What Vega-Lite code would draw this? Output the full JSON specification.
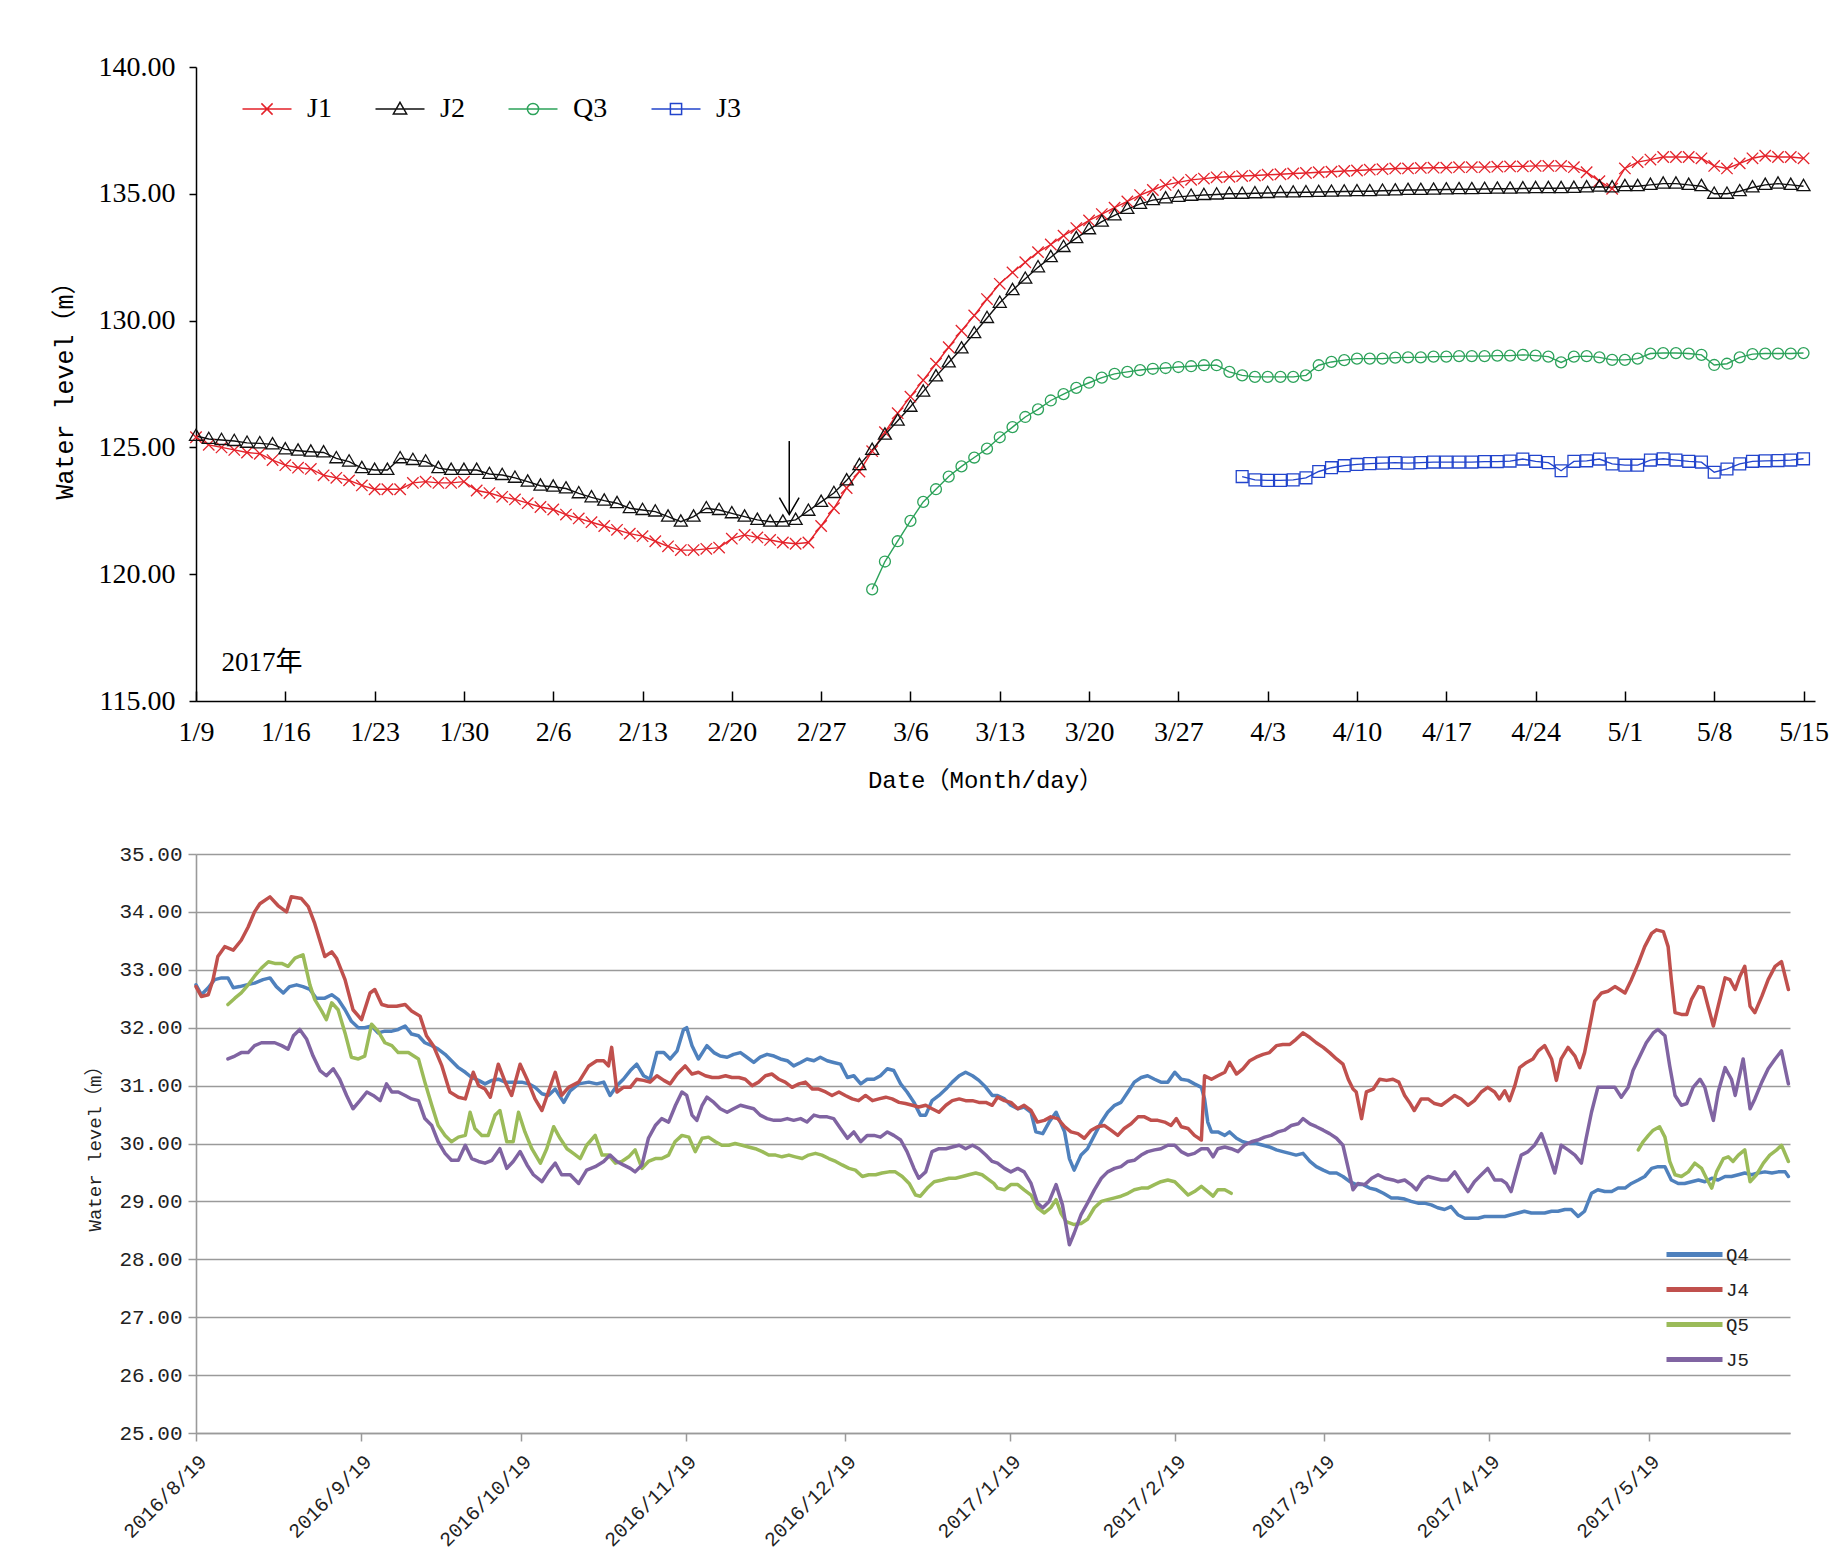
{
"$schema": "https://vega.github.io/schema/vega-lite/v6.json",
"background": "white",
"padding": {"left": 52, "top": 53, "right": 0, "bottom": 0},
"config": {"view": {"stroke": null}, "concat": {"spacing": 51}},
"resolve": {"scale": {"color": "independent", "shape": "independent"}, "legend": {"color": "independent", "shape": "independent"}},
"vconcat": [
{
"width": 1619, "height": 634,
"layer": [
{
"data": {"values": [
{"d":0,"J1":125.4,"J2":125.45},{"d":1,"J1":125.1,"J2":125.33},{"d":2,"J1":125.0,"J2":125.29},{"d":3,"J1":124.9,"J2":125.25},{"d":4,"J1":124.8,"J2":125.18},{"d":5,"J1":124.75,"J2":125.16},{"d":6,"J1":124.5,"J2":125.12},{"d":7,"J1":124.3,"J2":124.92},{"d":8,"J1":124.2,"J2":124.87},{"d":9,"J1":124.15,"J2":124.83},
{"d":10,"J1":123.9,"J2":124.8},{"d":11,"J1":123.8,"J2":124.57},{"d":12,"J1":123.7,"J2":124.44},{"d":13,"J1":123.5,"J2":124.18},{"d":14,"J1":123.35,"J2":124.11},{"d":15,"J1":123.35,"J2":124.11},{"d":16,"J1":123.35,"J2":124.57},{"d":17,"J1":123.6,"J2":124.5},{"d":18,"J1":123.65,"J2":124.44},{"d":19,"J1":123.6,"J2":124.18},
{"d":20,"J1":123.6,"J2":124.11},{"d":21,"J1":123.65,"J2":124.11},{"d":22,"J1":123.3,"J2":124.11},{"d":23,"J1":123.2,"J2":123.95},{"d":24,"J1":123.05,"J2":123.91},{"d":25,"J1":122.95,"J2":123.8},{"d":26,"J1":122.8,"J2":123.65},{"d":27,"J1":122.65,"J2":123.49},{"d":28,"J1":122.55,"J2":123.45},{"d":29,"J1":122.35,"J2":123.38},
{"d":30,"J1":122.2,"J2":123.19},{"d":31,"J1":122.05,"J2":123.03},{"d":32,"J1":121.9,"J2":122.9},{"d":33,"J1":121.75,"J2":122.8},{"d":34,"J1":121.6,"J2":122.6},{"d":35,"J1":121.5,"J2":122.53},{"d":36,"J1":121.3,"J2":122.47},{"d":37,"J1":121.1,"J2":122.27},{"d":38,"J1":120.95,"J2":122.07},{"d":39,"J1":120.95,"J2":122.27},
{"d":40,"J1":121.0,"J2":122.6},{"d":41,"J1":121.05,"J2":122.53},{"d":42,"J1":121.4,"J2":122.4},{"d":43,"J1":121.55,"J2":122.27},{"d":44,"J1":121.45,"J2":122.14},{"d":45,"J1":121.35,"J2":122.07},{"d":46,"J1":121.25,"J2":122.07},{"d":47,"J1":121.2,"J2":122.14},{"d":48,"J1":121.25,"J2":122.5},{"d":49,"J1":121.9,"J2":122.85},
{"d":50,"J1":122.6,"J2":123.2},{"d":51,"J1":123.4,"J2":123.7},{"d":52,"J1":124.05,"J2":124.3},{"d":53,"J1":124.85,"J2":124.9,"Q3":119.4},{"d":54,"J1":125.6,"J2":125.5,"Q3":120.5},{"d":55,"J1":126.35,"J2":126.05,"Q3":121.3},{"d":56,"J1":127.0,"J2":126.6,"Q3":122.1},{"d":57,"J1":127.65,"J2":127.2,"Q3":122.85},{"d":58,"J1":128.3,"J2":127.8,"Q3":123.35},{"d":59,"J1":128.95,"J2":128.35,"Q3":123.85},
{"d":60,"J1":129.6,"J2":128.9,"Q3":124.25},{"d":61,"J1":130.2,"J2":129.5,"Q3":124.6},{"d":62,"J1":130.85,"J2":130.1,"Q3":124.95},{"d":63,"J1":131.45,"J2":130.7,"Q3":125.4},{"d":64,"J1":131.9,"J2":131.2,"Q3":125.8},{"d":65,"J1":132.3,"J2":131.65,"Q3":126.2},{"d":66,"J1":132.7,"J2":132.1,"Q3":126.5},{"d":67,"J1":133.0,"J2":132.5,"Q3":126.85},{"d":68,"J1":133.35,"J2":132.9,"Q3":127.1},{"d":69,"J1":133.65,"J2":133.25,"Q3":127.35},
{"d":70,"J1":133.95,"J2":133.6,"Q3":127.55},{"d":71,"J1":134.2,"J2":133.9,"Q3":127.75},{"d":72,"J1":134.45,"J2":134.15,"Q3":127.9},{"d":73,"J1":134.7,"J2":134.4,"Q3":127.98},{"d":74,"J1":134.95,"J2":134.6,"Q3":128.05},{"d":75,"J1":135.15,"J2":134.75,"Q3":128.1},{"d":76,"J1":135.35,"J2":134.82,"Q3":128.13},{"d":77,"J1":135.45,"J2":134.88,"Q3":128.17},{"d":78,"J1":135.55,"J2":134.92,"Q3":128.2},{"d":79,"J1":135.6,"J2":134.95,"Q3":128.24},
{"d":80,"J1":135.65,"J2":134.97,"Q3":128.24},{"d":81,"J1":135.67,"J2":135.0,"Q3":127.98},{"d":82,"J1":135.7,"J2":135.0,"Q3":127.84,"J3":123.85},{"d":83,"J1":135.72,"J2":135.02,"Q3":127.78,"J3":123.72},{"d":84,"J1":135.75,"J2":135.03,"Q3":127.78,"J3":123.7},{"d":85,"J1":135.77,"J2":135.05,"Q3":127.78,"J3":123.7},{"d":86,"J1":135.8,"J2":135.05,"Q3":127.78,"J3":123.72},{"d":87,"J1":135.82,"J2":135.06,"Q3":127.84,"J3":123.8},{"d":88,"J1":135.85,"J2":135.07,"Q3":128.24,"J3":124.05},{"d":89,"J1":135.87,"J2":135.08,"Q3":128.37,"J3":124.2},
{"d":90,"J1":135.9,"J2":135.09,"Q3":128.44,"J3":124.28},{"d":91,"J1":135.92,"J2":135.1,"Q3":128.5,"J3":124.33},{"d":92,"J1":135.95,"J2":135.1,"Q3":128.5,"J3":124.36},{"d":93,"J1":135.97,"J2":135.12,"Q3":128.5,"J3":124.38},{"d":94,"J1":136.0,"J2":135.13,"Q3":128.54,"J3":124.4},{"d":95,"J1":136.0,"J2":135.15,"Q3":128.55,"J3":124.38},{"d":96,"J1":136.02,"J2":135.15,"Q3":128.55,"J3":124.4},{"d":97,"J1":136.03,"J2":135.16,"Q3":128.58,"J3":124.42},{"d":98,"J1":136.03,"J2":135.17,"Q3":128.58,"J3":124.42},{"d":99,"J1":136.05,"J2":135.18,"Q3":128.6,"J3":124.42},
{"d":100,"J1":136.05,"J2":135.18,"Q3":128.6,"J3":124.42},{"d":101,"J1":136.05,"J2":135.19,"Q3":128.6,"J3":124.44},{"d":102,"J1":136.07,"J2":135.2,"Q3":128.62,"J3":124.44},{"d":103,"J1":136.08,"J2":135.2,"Q3":128.62,"J3":124.46},{"d":104,"J1":136.08,"J2":135.21,"Q3":128.65,"J3":124.54},{"d":105,"J1":136.1,"J2":135.22,"Q3":128.62,"J3":124.45},{"d":106,"J1":136.1,"J2":135.22,"Q3":128.58,"J3":124.4},{"d":107,"J1":136.1,"J2":135.22,"Q3":128.35,"J3":124.08},{"d":108,"J1":136.05,"J2":135.23,"Q3":128.58,"J3":124.45},{"d":109,"J1":135.85,"J2":135.25,"Q3":128.6,"J3":124.47},
{"d":110,"J1":135.5,"J2":135.28,"Q3":128.55,"J3":124.54},{"d":111,"J1":135.2,"J2":135.25,"Q3":128.45,"J3":124.35},{"d":112,"J1":136.0,"J2":135.3,"Q3":128.45,"J3":124.3},{"d":113,"J1":136.25,"J2":135.3,"Q3":128.5,"J3":124.3},{"d":114,"J1":136.35,"J2":135.35,"Q3":128.7,"J3":124.5},{"d":115,"J1":136.45,"J2":135.4,"Q3":128.72,"J3":124.55},{"d":116,"J1":136.45,"J2":135.4,"Q3":128.72,"J3":124.5},{"d":117,"J1":136.45,"J2":135.35,"Q3":128.7,"J3":124.45},{"d":118,"J1":136.4,"J2":135.3,"Q3":128.65,"J3":124.42},{"d":119,"J1":136.1,"J2":135.0,"Q3":128.25,"J3":124.02},
{"d":120,"J1":136.0,"J2":135.0,"Q3":128.3,"J3":124.15},{"d":121,"J1":136.2,"J2":135.1,"Q3":128.55,"J3":124.35},{"d":122,"J1":136.4,"J2":135.25,"Q3":128.68,"J3":124.45},{"d":123,"J1":136.5,"J2":135.35,"Q3":128.7,"J3":124.47},{"d":124,"J1":136.45,"J2":135.4,"Q3":128.7,"J3":124.48},{"d":125,"J1":136.45,"J2":135.35,"Q3":128.7,"J3":124.5},{"d":126,"J1":136.4,"J2":135.3,"Q3":128.72,"J3":124.55}
]},
"transform": [{"fold": ["J1","J2","Q3","J3"], "as": ["s","v"]}, {"filter": "isValid(datum.v)"}],
"layer": [
{"mark": {"type": "line", "strokeWidth": 1.4},
 "encoding": {
  "x": {"field": "d", "type": "quantitative", "scale": {"domain": [0, 126.9], "nice": false, "zero": false},
   "axis": {"values": [0,7,14,21,28,35,42,49,56,63,70,77,84,91,98,105,112,119,126],
    "labelExpr": "['1/9','1/16','1/23','1/30','2/6','2/13','2/20','2/27','3/6','3/13','3/20','3/27','4/3','4/10','4/17','4/24','5/1','5/8','5/15'][round(datum.value/7)]",
    "title": "Date（Month/day）", "titleFont": "Liberation Mono, Noto Sans CJK SC", "titleFontSize": 24, "titleFontWeight": "normal", "titleColor": "#000", "titlePadding": 22, "titleX": 789,
    "labelFont": "Liberation Serif", "labelFontSize": 28, "labelColor": "#000", "labelPadding": 27, "labelFlush": false, "labelOverlap": false,
    "tickSize": -10, "tickColor": "#000", "tickWidth": 1.5, "domainColor": "#000", "domainWidth": 1.5, "grid": false}},
  "y": {"field": "v", "type": "quantitative", "scale": {"domain": [115, 140], "nice": false, "zero": false},
   "axis": {"values": [115,120,125,130,135,140], "format": ".2f",
    "title": "Water level（m）", "titleFont": "Liberation Mono, Noto Sans CJK SC", "titleFontSize": 25, "titleFontWeight": "normal", "titleColor": "#000", "titlePadding": 21,
    "labelFont": "Liberation Serif", "labelFontSize": 28, "labelColor": "#000", "labelPadding": 14,
    "tickSize": 7, "tickColor": "#000", "tickWidth": 1.5, "domainColor": "#000", "domainWidth": 1.5, "grid": false}},
  "color": {"field": "s", "type": "nominal", "scale": {"domain": ["J1","J2","Q3","J3"], "range": ["#e4222a","#111111","#2ca25a","#2244cc"]}}
 }},
{"transform": [{"filter": "datum.s === 'J1'"}],
 "mark": {"type": "point", "shape": "M-1,-1L1,1M-1,1L1,-1", "filled": false, "size": 130, "strokeWidth": 1.3, "opacity": 1},
 "encoding": {"x": {"field": "d", "type": "quantitative"}, "y": {"field": "v", "type": "quantitative"}, "color": {"field": "s", "type": "nominal"}}},
{"transform": [{"filter": "datum.s === 'J2'"}],
 "mark": {"type": "point", "shape": "M0,-1.15L1.1,0.75L-1.1,0.75Z", "filled": false, "size": 140, "strokeWidth": 1.3, "opacity": 1},
 "encoding": {"x": {"field": "d", "type": "quantitative"}, "y": {"field": "v", "type": "quantitative"}, "color": {"field": "s", "type": "nominal"}}},
{"transform": [{"filter": "datum.s === 'Q3'"}],
 "mark": {"type": "point", "shape": "circle", "filled": false, "size": 120, "strokeWidth": 1.3, "opacity": 1},
 "encoding": {"x": {"field": "d", "type": "quantitative"}, "y": {"field": "v", "type": "quantitative"}, "color": {"field": "s", "type": "nominal"}}},
{"transform": [{"filter": "datum.s === 'J3'"}],
 "mark": {"type": "point", "shape": "square", "filled": false, "size": 140, "strokeWidth": 1.3, "opacity": 1},
 "encoding": {"x": {"field": "d", "type": "quantitative"}, "y": {"field": "v", "type": "quantitative"}, "color": {"field": "s", "type": "nominal"}}},
{"transform": [{"filter": "false"}],
 "mark": {"type": "point", "filled": false, "strokeWidth": 1.5, "opacity": 1},
 "encoding": {
  "x": {"field": "d", "type": "quantitative"},
  "y": {"field": "v", "type": "quantitative"},
  "color": {"field": "s", "type": "nominal",
   "legend": {"title": null, "orient": "none", "legendX": 57, "legendY": 28, "direction": "horizontal", "padding": 0,
    "symbolSize": 196, "symbolStrokeWidth": 1.5, "symbolOpacity": 1, "labelOffset": 26, "columnPadding": 40,
    "labelFont": "Liberation Serif", "labelFontSize": 28, "labelColor": "#000", "labelLimit": 0}},
  "shape": {"field": "s", "type": "nominal",
   "scale": {"domain": ["J1","J2","Q3","J3"], "range": [
     "M-3.5,0L3.5,0M-0.8,-0.8L0.8,0.8M-0.8,0.8L0.8,-0.8",
     "M-3.5,0L3.5,0M0,-0.95L0.95,0.7L-0.95,0.7Z",
     "M-3.5,0L3.5,0M-0.8,0A0.8 0.8 0 1 0 0.8,0A0.8 0.8 0 1 0 -0.8,0",
     "M-3.5,0L3.5,0M-0.8,-0.8L0.8,-0.8L0.8,0.8L-0.8,0.8Z"]},
   "legend": {"title": null, "orient": "none", "legendX": 57, "legendY": 28, "direction": "horizontal", "padding": 0,
    "symbolSize": 196, "symbolStrokeWidth": 1.5, "symbolOpacity": 1, "labelOffset": 26, "columnPadding": 40,
    "labelFont": "Liberation Serif", "labelFontSize": 28, "labelColor": "#000", "labelLimit": 0}}
 }}
]
},
{"data": {"values": [{}]}, "mark": {"type": "rule", "color": "#000", "strokeWidth": 1.5},
 "encoding": {"x": {"datum": 46.5}, "y": {"datum": 125.25}, "y2": {"datum": 122.4}}},
{"data": {"values": [{}]}, "mark": {"type": "point", "shape": "M-0.58,-1L0,0L0.58,-1", "size": 1156, "filled": false, "stroke": "#000", "strokeWidth": 1.5, "opacity": 1},
 "encoding": {"x": {"datum": 46.5}, "y": {"datum": 122.35}}},
{"data": {"values": [{}]}, "mark": {"type": "text", "text": "2017年", "align": "left", "baseline": "middle", "font": "Liberation Serif, Noto Sans CJK SC", "fontSize": 27, "color": "#000"},
 "encoding": {"x": {"datum": 2}, "y": {"datum": 116.5}}}
]
},
{
"width": 1594, "height": 579,
"data": {"values": [
{"s":"Q4","t":0,"v":32.74},{"s":"Q4","t":1,"v":32.57},{"s":"Q4","t":2.3,"v":32.69},{"s":"Q4","t":3.5,"v":32.83},{"s":"Q4","t":4.8,"v":32.86},{"s":"Q4","t":6,"v":32.86},{"s":"Q4","t":7,"v":32.69},{"s":"Q4","t":8.2,"v":32.71},{"s":"Q4","t":9.5,"v":32.74},{"s":"Q4","t":11,"v":32.77},{"s":"Q4","t":12.6,"v":32.83},{"s":"Q4","t":13.9,"v":32.86},{"s":"Q4","t":15.1,"v":32.71},{"s":"Q4","t":16.4,"v":32.6},{"s":"Q4","t":17.6,"v":32.71},{"s":"Q4","t":18.9,"v":32.74},{"s":"Q4","t":20.1,"v":32.71},{"s":"Q4","t":21.4,"v":32.66},{"s":"Q4","t":22.6,"v":32.51},{"s":"Q4","t":24.2,"v":32.51},{"s":"Q4","t":25.5,"v":32.57},{"s":"Q4","t":26.7,"v":32.49},{"s":"Q4","t":28,"v":32.31},{"s":"Q4","t":29.2,"v":32.11},{"s":"Q4","t":30.5,"v":32.0},{"s":"Q4","t":31.7,"v":32.0},{"s":"Q4","t":33,"v":32.03},{"s":"Q4","t":34.2,"v":31.91},{"s":"Q4","t":35.5,"v":31.94},{"s":"Q4","t":36.8,"v":31.94},{"s":"Q4","t":38,"v":31.97},{"s":"Q4","t":39.3,"v":32.03},{"s":"Q4","t":40.5,"v":31.89},{"s":"Q4","t":41.8,"v":31.86},{"s":"Q4","t":43,"v":31.74},{"s":"Q4","t":44.3,"v":31.69},{"s":"Q4","t":45.5,"v":31.63},{"s":"Q4","t":46.8,"v":31.54},{"s":"Q4","t":48,"v":31.43},{"s":"Q4","t":49.3,"v":31.31},{"s":"Q4","t":50.6,"v":31.23},{"s":"Q4","t":51.8,"v":31.14},{"s":"Q4","t":53.1,"v":31.09},{"s":"Q4","t":54.3,"v":31.03},{"s":"Q4","t":55.6,"v":31.09},{"s":"Q4","t":56.8,"v":31.11},{"s":"Q4","t":58.1,"v":31.06},{"s":"Q4","t":59.6,"v":31.06},{"s":"Q4","t":61.2,"v":31.06},{"s":"Q4","t":62.5,"v":31.03},{"s":"Q4","t":63.7,"v":30.97},{"s":"Q4","t":65,"v":30.86},{"s":"Q4","t":66.2,"v":30.83},{"s":"Q4","t":67.5,"v":30.94},{"s":"Q4","t":69.1,"v":30.71},{"s":"Q4","t":70.3,"v":30.91},{"s":"Q4","t":71.9,"v":31.03},{"s":"Q4","t":73.8,"v":31.06},{"s":"Q4","t":75.3,"v":31.03},
{"s":"Q4","t":76.6,"v":31.06},{"s":"Q4","t":77.8,"v":30.83},{"s":"Q4","t":79.1,"v":31.0},{"s":"Q4","t":80.3,"v":31.11},{"s":"Q4","t":81.6,"v":31.26},{"s":"Q4","t":82.8,"v":31.37},{"s":"Q4","t":84.1,"v":31.17},{"s":"Q4","t":85.3,"v":31.11},{"s":"Q4","t":86.6,"v":31.57},{"s":"Q4","t":87.9,"v":31.57},{"s":"Q4","t":89.1,"v":31.46},{"s":"Q4","t":90.4,"v":31.6},{"s":"Q4","t":91.6,"v":31.97},{"s":"Q4","t":92.2,"v":32.0},{"s":"Q4","t":93.2,"v":31.69},{"s":"Q4","t":94.4,"v":31.46},{"s":"Q4","t":96,"v":31.69},{"s":"Q4","t":97.3,"v":31.57},{"s":"Q4","t":98.5,"v":31.51},{"s":"Q4","t":99.8,"v":31.49},{"s":"Q4","t":101,"v":31.54},{"s":"Q4","t":102.3,"v":31.57},{"s":"Q4","t":103.5,"v":31.49},{"s":"Q4","t":104.8,"v":31.4},{"s":"Q4","t":106,"v":31.49},{"s":"Q4","t":107.3,"v":31.54},{"s":"Q4","t":108.6,"v":31.51},{"s":"Q4","t":109.8,"v":31.46},{"s":"Q4","t":111.1,"v":31.43},{"s":"Q4","t":112.3,"v":31.34},{"s":"Q4","t":113.6,"v":31.4},{"s":"Q4","t":114.8,"v":31.46},{"s":"Q4","t":116.1,"v":31.43},{"s":"Q4","t":117.3,"v":31.49},{"s":"Q4","t":118.6,"v":31.43},{"s":"Q4","t":119.8,"v":31.4},{"s":"Q4","t":121.1,"v":31.37},{"s":"Q4","t":122.4,"v":31.14},{"s":"Q4","t":123.6,"v":31.17},{"s":"Q4","t":124.9,"v":31.03},{"s":"Q4","t":126.1,"v":31.11},{"s":"Q4","t":127.4,"v":31.11},{"s":"Q4","t":128.6,"v":31.17},{"s":"Q4","t":129.9,"v":31.29},{"s":"Q4","t":131.1,"v":31.26},{"s":"Q4","t":132.4,"v":31.03},{"s":"Q4","t":133.6,"v":30.89},{"s":"Q4","t":134.9,"v":30.71},{"s":"Q4","t":136.1,"v":30.49},{"s":"Q4","t":137.1,"v":30.49},{"s":"Q4","t":138.3,"v":30.74},{"s":"Q4","t":139.6,"v":30.83},{"s":"Q4","t":140.9,"v":30.94},{"s":"Q4","t":142.1,"v":31.06},{"s":"Q4","t":143.4,"v":31.17},{"s":"Q4","t":144.6,"v":31.23},{"s":"Q4","t":145.9,"v":31.17},{"s":"Q4","t":147.1,"v":31.09},{"s":"Q4","t":148.4,"v":30.97},{"s":"Q4","t":149.6,"v":30.83},
{"s":"Q4","t":150.6,"v":30.83},{"s":"Q4","t":151.9,"v":30.77},{"s":"Q4","t":153.1,"v":30.66},{"s":"Q4","t":154.4,"v":30.6},{"s":"Q4","t":155.6,"v":30.63},{"s":"Q4","t":156.9,"v":30.54},{"s":"Q4","t":157.8,"v":30.2},{"s":"Q4","t":159.1,"v":30.17},{"s":"Q4","t":160.3,"v":30.37},{"s":"Q4","t":161.6,"v":30.54},{"s":"Q4","t":163.2,"v":30.2},{"s":"Q4","t":164.1,"v":29.74},{"s":"Q4","t":165,"v":29.54},{"s":"Q4","t":166.3,"v":29.8},{"s":"Q4","t":167.5,"v":29.91},{"s":"Q4","t":168.8,"v":30.14},{"s":"Q4","t":170.1,"v":30.37},{"s":"Q4","t":171.3,"v":30.54},{"s":"Q4","t":172.6,"v":30.66},{"s":"Q4","t":173.8,"v":30.71},{"s":"Q4","t":175.1,"v":30.89},{"s":"Q4","t":176.3,"v":31.06},{"s":"Q4","t":177.6,"v":31.14},{"s":"Q4","t":178.8,"v":31.17},{"s":"Q4","t":180.1,"v":31.11},{"s":"Q4","t":181.3,"v":31.06},{"s":"Q4","t":182.6,"v":31.06},{"s":"Q4","t":183.9,"v":31.23},{"s":"Q4","t":185.1,"v":31.11},{"s":"Q4","t":186.4,"v":31.09},{"s":"Q4","t":187.6,"v":31.03},{"s":"Q4","t":188.9,"v":30.97},{"s":"Q4","t":189.5,"v":30.77},{"s":"Q4","t":190.1,"v":30.37},{"s":"Q4","t":190.8,"v":30.2},{"s":"Q4","t":192,"v":30.2},{"s":"Q4","t":193.3,"v":30.14},{"s":"Q4","t":194.2,"v":30.2},{"s":"Q4","t":195.5,"v":30.09},{"s":"Q4","t":196.7,"v":30.03},{"s":"Q4","t":198,"v":30.0},{"s":"Q4","t":199.2,"v":30.0},{"s":"Q4","t":200.5,"v":29.97},{"s":"Q4","t":201.7,"v":29.94},{"s":"Q4","t":203,"v":29.89},{"s":"Q4","t":204.2,"v":29.86},{"s":"Q4","t":205.5,"v":29.83},{"s":"Q4","t":206.7,"v":29.8},{"s":"Q4","t":208,"v":29.83},{"s":"Q4","t":209.3,"v":29.69},{"s":"Q4","t":210.5,"v":29.6},{"s":"Q4","t":211.8,"v":29.54},{"s":"Q4","t":213,"v":29.49},{"s":"Q4","t":214.3,"v":29.49},{"s":"Q4","t":215.5,"v":29.43},{"s":"Q4","t":216.8,"v":29.34},{"s":"Q4","t":218,"v":29.29},{"s":"Q4","t":219.3,"v":29.29},{"s":"Q4","t":220.5,"v":29.23},{"s":"Q4","t":221.8,"v":29.2},{"s":"Q4","t":223.1,"v":29.14},{"s":"Q4","t":224.6,"v":29.06},
{"s":"Q4","t":225.8,"v":29.06},{"s":"Q4","t":227.1,"v":29.04},{"s":"Q4","t":228.3,"v":29.0},{"s":"Q4","t":229.6,"v":28.97},{"s":"Q4","t":230.8,"v":28.97},{"s":"Q4","t":232.1,"v":28.94},{"s":"Q4","t":233.3,"v":28.89},{"s":"Q4","t":234.6,"v":28.86},{"s":"Q4","t":235.8,"v":28.91},{"s":"Q4","t":237.1,"v":28.77},{"s":"Q4","t":238.4,"v":28.71},{"s":"Q4","t":239.6,"v":28.71},{"s":"Q4","t":240.9,"v":28.71},{"s":"Q4","t":242.1,"v":28.74},{"s":"Q4","t":243.4,"v":28.74},{"s":"Q4","t":244.6,"v":28.74},{"s":"Q4","t":245.9,"v":28.74},{"s":"Q4","t":247.1,"v":28.77},{"s":"Q4","t":248.4,"v":28.8},{"s":"Q4","t":249.6,"v":28.83},{"s":"Q4","t":250.9,"v":28.8},{"s":"Q4","t":252.2,"v":28.8},{"s":"Q4","t":253.4,"v":28.8},{"s":"Q4","t":254.7,"v":28.83},{"s":"Q4","t":255.9,"v":28.83},{"s":"Q4","t":257.2,"v":28.86},{"s":"Q4","t":258.4,"v":28.86},{"s":"Q4","t":259.7,"v":28.74},{"s":"Q4","t":260.9,"v":28.83},{"s":"Q4","t":262.2,"v":29.14},{"s":"Q4","t":263.4,"v":29.2},{"s":"Q4","t":264.7,"v":29.17},{"s":"Q4","t":266,"v":29.17},{"s":"Q4","t":267.2,"v":29.23},{"s":"Q4","t":268.5,"v":29.23},{"s":"Q4","t":269.7,"v":29.31},{"s":"Q4","t":271,"v":29.37},{"s":"Q4","t":272.2,"v":29.43},{"s":"Q4","t":273.5,"v":29.57},{"s":"Q4","t":274.7,"v":29.6},{"s":"Q4","t":276,"v":29.6},{"s":"Q4","t":277.2,"v":29.37},{"s":"Q4","t":278.5,"v":29.31},{"s":"Q4","t":279.7,"v":29.31},{"s":"Q4","t":281,"v":29.34},{"s":"Q4","t":282.3,"v":29.37},{"s":"Q4","t":283.5,"v":29.34},{"s":"Q4","t":284.8,"v":29.4},{"s":"Q4","t":286,"v":29.37},{"s":"Q4","t":287.3,"v":29.43},{"s":"Q4","t":288.5,"v":29.43},{"s":"Q4","t":289.8,"v":29.46},{"s":"Q4","t":291,"v":29.49},{"s":"Q4","t":292.3,"v":29.46},{"s":"Q4","t":293.5,"v":29.49},{"s":"Q4","t":294.8,"v":29.51},{"s":"Q4","t":296.1,"v":29.49},{"s":"Q4","t":297.3,"v":29.51},{"s":"Q4","t":298.6,"v":29.51},{"s":"Q4","t":299.2,"v":29.43},
{"s":"J4","t":0,"v":32.71},{"s":"J4","t":1,"v":32.54},{"s":"J4","t":2.3,"v":32.57},{"s":"J4","t":3.2,"v":32.83},{"s":"J4","t":4.1,"v":33.23},{"s":"J4","t":5.4,"v":33.4},{"s":"J4","t":7,"v":33.34},{"s":"J4","t":8.5,"v":33.51},{"s":"J4","t":9.8,"v":33.74},{"s":"J4","t":11,"v":34.0},{"s":"J4","t":12,"v":34.14},{"s":"J4","t":13.9,"v":34.26},{"s":"J4","t":15.4,"v":34.11},{"s":"J4","t":17,"v":34.0},{"s":"J4","t":17.9,"v":34.26},{"s":"J4","t":19.8,"v":34.23},{"s":"J4","t":21.1,"v":34.09},{"s":"J4","t":22.3,"v":33.8},{"s":"J4","t":24.2,"v":33.23},{"s":"J4","t":25.5,"v":33.31},{"s":"J4","t":26.4,"v":33.2},{"s":"J4","t":28,"v":32.83},{"s":"J4","t":29.5,"v":32.31},{"s":"J4","t":31.1,"v":32.14},{"s":"J4","t":32.7,"v":32.6},{"s":"J4","t":33.6,"v":32.66},{"s":"J4","t":34.9,"v":32.4},{"s":"J4","t":36.1,"v":32.37},{"s":"J4","t":37.7,"v":32.37},{"s":"J4","t":39.3,"v":32.4},{"s":"J4","t":40.5,"v":32.29},{"s":"J4","t":42.1,"v":32.2},{"s":"J4","t":43.3,"v":31.86},{"s":"J4","t":44.6,"v":31.69},{"s":"J4","t":46.2,"v":31.34},{"s":"J4","t":47.7,"v":30.89},{"s":"J4","t":49.3,"v":30.8},{"s":"J4","t":50.6,"v":30.77},{"s":"J4","t":52.1,"v":31.23},{"s":"J4","t":53.1,"v":31.0},{"s":"J4","t":54.3,"v":30.94},{"s":"J4","t":55.3,"v":30.8},{"s":"J4","t":56.8,"v":31.37},{"s":"J4","t":58.1,"v":31.06},{"s":"J4","t":59.3,"v":30.83},{"s":"J4","t":60.9,"v":31.37},{"s":"J4","t":62.2,"v":31.11},{"s":"J4","t":63.7,"v":30.77},{"s":"J4","t":65,"v":30.57},{"s":"J4","t":66.2,"v":30.89},{"s":"J4","t":67.5,"v":31.23},{"s":"J4","t":68.7,"v":30.83},{"s":"J4","t":70,"v":30.97},{"s":"J4","t":71.9,"v":31.06},{"s":"J4","t":73.8,"v":31.34},{"s":"J4","t":75.3,"v":31.43},
{"s":"J4","t":76.6,"v":31.43},{"s":"J4","t":77.5,"v":31.34},{"s":"J4","t":78.1,"v":31.66},{"s":"J4","t":79.1,"v":30.89},{"s":"J4","t":80.3,"v":30.97},{"s":"J4","t":81.6,"v":30.97},{"s":"J4","t":82.8,"v":31.11},{"s":"J4","t":84.1,"v":31.09},{"s":"J4","t":85.3,"v":31.06},{"s":"J4","t":86.6,"v":31.17},{"s":"J4","t":87.9,"v":31.09},{"s":"J4","t":89.1,"v":31.03},{"s":"J4","t":90.4,"v":31.2},{"s":"J4","t":91.9,"v":31.34},{"s":"J4","t":93.2,"v":31.2},{"s":"J4","t":94.4,"v":31.23},{"s":"J4","t":95.7,"v":31.17},{"s":"J4","t":97,"v":31.14},{"s":"J4","t":98.2,"v":31.14},{"s":"J4","t":99.5,"v":31.17},{"s":"J4","t":100.7,"v":31.14},{"s":"J4","t":102,"v":31.14},{"s":"J4","t":103.2,"v":31.11},{"s":"J4","t":104.5,"v":31.0},{"s":"J4","t":105.7,"v":31.06},{"s":"J4","t":107,"v":31.17},{"s":"J4","t":108.2,"v":31.2},{"s":"J4","t":109.5,"v":31.11},{"s":"J4","t":110.7,"v":31.06},{"s":"J4","t":112,"v":30.97},{"s":"J4","t":113.3,"v":31.03},{"s":"J4","t":114.5,"v":31.06},{"s":"J4","t":115.8,"v":30.94},{"s":"J4","t":117,"v":30.94},{"s":"J4","t":118.3,"v":30.89},{"s":"J4","t":119.5,"v":30.83},{"s":"J4","t":120.8,"v":30.89},{"s":"J4","t":122,"v":30.83},{"s":"J4","t":123.3,"v":30.77},{"s":"J4","t":124.5,"v":30.74},{"s":"J4","t":125.8,"v":30.83},{"s":"J4","t":127.1,"v":30.74},{"s":"J4","t":128.3,"v":30.77},{"s":"J4","t":129.6,"v":30.8},{"s":"J4","t":130.8,"v":30.77},{"s":"J4","t":132.1,"v":30.71},{"s":"J4","t":133.3,"v":30.69},{"s":"J4","t":134.6,"v":30.66},{"s":"J4","t":135.8,"v":30.63},{"s":"J4","t":137.1,"v":30.66},{"s":"J4","t":138.3,"v":30.6},{"s":"J4","t":139.6,"v":30.54},{"s":"J4","t":140.9,"v":30.66},{"s":"J4","t":142.1,"v":30.74},{"s":"J4","t":143.4,"v":30.77},{"s":"J4","t":144.6,"v":30.74},{"s":"J4","t":145.9,"v":30.74},{"s":"J4","t":147.1,"v":30.71},{"s":"J4","t":148.4,"v":30.71},{"s":"J4","t":149.6,"v":30.66},
{"s":"J4","t":150.6,"v":30.8},{"s":"J4","t":151.9,"v":30.74},{"s":"J4","t":153.1,"v":30.71},{"s":"J4","t":154.4,"v":30.6},{"s":"J4","t":155.6,"v":30.66},{"s":"J4","t":156.9,"v":30.57},{"s":"J4","t":158.1,"v":30.37},{"s":"J4","t":159.4,"v":30.4},{"s":"J4","t":160.6,"v":30.46},{"s":"J4","t":161.9,"v":30.43},{"s":"J4","t":163.2,"v":30.29},{"s":"J4","t":164.4,"v":30.2},{"s":"J4","t":165.7,"v":30.17},{"s":"J4","t":166.9,"v":30.09},{"s":"J4","t":168.2,"v":30.23},{"s":"J4","t":169.4,"v":30.29},{"s":"J4","t":170.7,"v":30.31},{"s":"J4","t":171.9,"v":30.23},{"s":"J4","t":173.2,"v":30.14},{"s":"J4","t":174.4,"v":30.26},{"s":"J4","t":175.7,"v":30.34},{"s":"J4","t":177,"v":30.46},{"s":"J4","t":178.2,"v":30.46},{"s":"J4","t":179.5,"v":30.4},{"s":"J4","t":180.7,"v":30.4},{"s":"J4","t":182,"v":30.37},{"s":"J4","t":183.2,"v":30.31},{"s":"J4","t":184.2,"v":30.43},{"s":"J4","t":185.1,"v":30.29},{"s":"J4","t":186.4,"v":30.26},{"s":"J4","t":187.6,"v":30.14},{"s":"J4","t":188.9,"v":30.06},{"s":"J4","t":189.5,"v":31.17},{"s":"J4","t":190.8,"v":31.11},{"s":"J4","t":192,"v":31.17},{"s":"J4","t":193.3,"v":31.23},{"s":"J4","t":194.2,"v":31.4},{"s":"J4","t":195.5,"v":31.2},{"s":"J4","t":196.7,"v":31.29},{"s":"J4","t":198,"v":31.43},{"s":"J4","t":199.2,"v":31.49},{"s":"J4","t":200.5,"v":31.54},{"s":"J4","t":201.7,"v":31.57},{"s":"J4","t":203,"v":31.69},{"s":"J4","t":204.2,"v":31.71},{"s":"J4","t":205.5,"v":31.71},{"s":"J4","t":206.7,"v":31.8},{"s":"J4","t":208,"v":31.91},{"s":"J4","t":209.3,"v":31.83},{"s":"J4","t":210.5,"v":31.74},{"s":"J4","t":211.8,"v":31.66},{"s":"J4","t":213,"v":31.57},{"s":"J4","t":214.3,"v":31.46},{"s":"J4","t":215.5,"v":31.37},{"s":"J4","t":216.5,"v":31.11},{"s":"J4","t":217.4,"v":30.94},{"s":"J4","t":218,"v":30.89},{"s":"J4","t":219,"v":30.43},{"s":"J4","t":219.9,"v":30.89},{"s":"J4","t":221.2,"v":30.94},{"s":"J4","t":222.4,"v":31.11},{"s":"J4","t":223.7,"v":31.09},{"s":"J4","t":224.9,"v":31.11},
{"s":"J4","t":226,"v":31.06},{"s":"J4","t":227.1,"v":30.83},{"s":"J4","t":228,"v":30.71},{"s":"J4","t":228.9,"v":30.57},{"s":"J4","t":230.2,"v":30.77},{"s":"J4","t":231.5,"v":30.77},{"s":"J4","t":232.7,"v":30.69},{"s":"J4","t":234,"v":30.66},{"s":"J4","t":235.2,"v":30.74},{"s":"J4","t":236.5,"v":30.83},{"s":"J4","t":237.7,"v":30.77},{"s":"J4","t":239,"v":30.66},{"s":"J4","t":240.2,"v":30.74},{"s":"J4","t":241.5,"v":30.89},{"s":"J4","t":242.7,"v":30.97},{"s":"J4","t":244,"v":30.89},{"s":"J4","t":244.9,"v":30.77},{"s":"J4","t":245.9,"v":30.91},{"s":"J4","t":246.8,"v":30.74},{"s":"J4","t":247.8,"v":31.0},{"s":"J4","t":248.7,"v":31.31},{"s":"J4","t":250,"v":31.4},{"s":"J4","t":251.2,"v":31.46},{"s":"J4","t":252.2,"v":31.6},{"s":"J4","t":253.4,"v":31.69},{"s":"J4","t":254.7,"v":31.46},{"s":"J4","t":255.6,"v":31.09},{"s":"J4","t":256.5,"v":31.46},{"s":"J4","t":257.8,"v":31.66},{"s":"J4","t":259.1,"v":31.51},{"s":"J4","t":260,"v":31.31},{"s":"J4","t":260.9,"v":31.57},{"s":"J4","t":261.9,"v":32.03},{"s":"J4","t":262.8,"v":32.46},{"s":"J4","t":264.1,"v":32.6},{"s":"J4","t":265.3,"v":32.63},{"s":"J4","t":266.6,"v":32.71},{"s":"J4","t":267.5,"v":32.66},{"s":"J4","t":268.5,"v":32.6},{"s":"J4","t":269.7,"v":32.83},{"s":"J4","t":271,"v":33.11},{"s":"J4","t":272.2,"v":33.4},{"s":"J4","t":273.5,"v":33.63},{"s":"J4","t":274.4,"v":33.69},{"s":"J4","t":275.7,"v":33.66},{"s":"J4","t":276.6,"v":33.4},{"s":"J4","t":277.2,"v":32.83},{"s":"J4","t":277.9,"v":32.26},{"s":"J4","t":279.1,"v":32.23},{"s":"J4","t":280.1,"v":32.23},{"s":"J4","t":281,"v":32.49},{"s":"J4","t":282.3,"v":32.71},{"s":"J4","t":283.2,"v":32.69},{"s":"J4","t":284.1,"v":32.37},{"s":"J4","t":285.1,"v":32.03},{"s":"J4","t":286,"v":32.37},{"s":"J4","t":287.3,"v":32.86},{"s":"J4","t":288.2,"v":32.83},{"s":"J4","t":289.2,"v":32.66},{"s":"J4","t":290.1,"v":32.89},{"s":"J4","t":291,"v":33.06},{"s":"J4","t":292,"v":32.37},{"s":"J4","t":292.9,"v":32.26},{"s":"J4","t":294.2,"v":32.54},{"s":"J4","t":295.4,"v":32.83},{"s":"J4","t":296.7,"v":33.06},{"s":"J4","t":297.9,"v":33.14},{"s":"J4","t":299.2,"v":32.66},
{"s":"Q5","t":6,"v":32.4},{"s":"Q5","t":7.3,"v":32.51},{"s":"Q5","t":8.5,"v":32.6},{"s":"Q5","t":9.8,"v":32.74},{"s":"Q5","t":11,"v":32.89},{"s":"Q5","t":12.3,"v":33.03},{"s":"Q5","t":13.6,"v":33.14},{"s":"Q5","t":14.8,"v":33.11},{"s":"Q5","t":16.1,"v":33.11},{"s":"Q5","t":17.3,"v":33.06},{"s":"Q5","t":18.6,"v":33.2},{"s":"Q5","t":20.1,"v":33.26},{"s":"Q5","t":21.4,"v":32.74},{"s":"Q5","t":22.3,"v":32.49},{"s":"Q5","t":23.6,"v":32.29},{"s":"Q5","t":24.5,"v":32.14},{"s":"Q5","t":25.5,"v":32.43},{"s":"Q5","t":26.7,"v":32.31},{"s":"Q5","t":28,"v":31.91},{"s":"Q5","t":29.2,"v":31.49},{"s":"Q5","t":30.5,"v":31.46},{"s":"Q5","t":31.7,"v":31.51},{"s":"Q5","t":33,"v":32.06},{"s":"Q5","t":34.2,"v":31.94},{"s":"Q5","t":35.5,"v":31.74},{"s":"Q5","t":36.8,"v":31.69},{"s":"Q5","t":38,"v":31.57},{"s":"Q5","t":39.9,"v":31.57},{"s":"Q5","t":41.8,"v":31.46},{"s":"Q5","t":43,"v":31.06},{"s":"Q5","t":44.3,"v":30.66},{"s":"Q5","t":45.5,"v":30.31},{"s":"Q5","t":46.8,"v":30.14},{"s":"Q5","t":48,"v":30.03},{"s":"Q5","t":49.3,"v":30.11},{"s":"Q5","t":50.6,"v":30.14},{"s":"Q5","t":51.5,"v":30.54},{"s":"Q5","t":52.4,"v":30.26},{"s":"Q5","t":53.7,"v":30.14},{"s":"Q5","t":54.9,"v":30.14},{"s":"Q5","t":56.2,"v":30.49},{"s":"Q5","t":57.1,"v":30.57},{"s":"Q5","t":58.4,"v":30.03},{"s":"Q5","t":59.6,"v":30.03},{"s":"Q5","t":60.6,"v":30.54},{"s":"Q5","t":61.8,"v":30.2},{"s":"Q5","t":63.1,"v":29.91},{"s":"Q5","t":64.7,"v":29.66},{"s":"Q5","t":65.9,"v":29.91},{"s":"Q5","t":67.2,"v":30.29},{"s":"Q5","t":68.4,"v":30.09},{"s":"Q5","t":69.7,"v":29.91},{"s":"Q5","t":70.9,"v":29.83},{"s":"Q5","t":72.2,"v":29.74},{"s":"Q5","t":73.4,"v":29.97},{"s":"Q5","t":75,"v":30.14},
{"s":"Q5","t":76.3,"v":29.8},{"s":"Q5","t":77.5,"v":29.8},{"s":"Q5","t":78.8,"v":29.66},{"s":"Q5","t":80,"v":29.69},{"s":"Q5","t":81.3,"v":29.77},{"s":"Q5","t":82.5,"v":29.89},{"s":"Q5","t":83.8,"v":29.57},{"s":"Q5","t":85,"v":29.69},{"s":"Q5","t":86.3,"v":29.74},{"s":"Q5","t":87.5,"v":29.74},{"s":"Q5","t":88.8,"v":29.8},{"s":"Q5","t":90,"v":30.03},{"s":"Q5","t":91.3,"v":30.14},{"s":"Q5","t":92.6,"v":30.11},{"s":"Q5","t":93.8,"v":29.86},{"s":"Q5","t":95.1,"v":30.09},{"s":"Q5","t":96.3,"v":30.11},{"s":"Q5","t":97.6,"v":30.03},{"s":"Q5","t":98.8,"v":29.97},{"s":"Q5","t":100.1,"v":29.97},{"s":"Q5","t":101.3,"v":30.0},{"s":"Q5","t":102.6,"v":29.97},{"s":"Q5","t":103.8,"v":29.94},{"s":"Q5","t":105.1,"v":29.91},{"s":"Q5","t":106.4,"v":29.86},{"s":"Q5","t":107.6,"v":29.8},{"s":"Q5","t":108.9,"v":29.8},{"s":"Q5","t":110.1,"v":29.77},{"s":"Q5","t":111.4,"v":29.8},{"s":"Q5","t":112.6,"v":29.77},{"s":"Q5","t":113.9,"v":29.74},{"s":"Q5","t":115.1,"v":29.8},{"s":"Q5","t":116.4,"v":29.83},{"s":"Q5","t":117.6,"v":29.8},{"s":"Q5","t":118.9,"v":29.74},{"s":"Q5","t":120.2,"v":29.69},{"s":"Q5","t":121.4,"v":29.63},{"s":"Q5","t":122.7,"v":29.57},{"s":"Q5","t":123.9,"v":29.54},{"s":"Q5","t":125.2,"v":29.43},{"s":"Q5","t":126.4,"v":29.46},{"s":"Q5","t":127.7,"v":29.46},{"s":"Q5","t":128.9,"v":29.49},{"s":"Q5","t":130.2,"v":29.51},{"s":"Q5","t":131.4,"v":29.51},{"s":"Q5","t":132.7,"v":29.43},{"s":"Q5","t":134,"v":29.31},{"s":"Q5","t":135.2,"v":29.11},{"s":"Q5","t":136.1,"v":29.09},{"s":"Q5","t":137.4,"v":29.23},{"s":"Q5","t":138.7,"v":29.34},{"s":"Q5","t":140.2,"v":29.37},{"s":"Q5","t":141.5,"v":29.4},{"s":"Q5","t":142.7,"v":29.4},{"s":"Q5","t":144,"v":29.43},{"s":"Q5","t":145.2,"v":29.46},{"s":"Q5","t":146.5,"v":29.49},{"s":"Q5","t":147.7,"v":29.46},{"s":"Q5","t":149,"v":29.37},{"s":"Q5","t":149.9,"v":29.31},
{"s":"Q5","t":150.6,"v":29.23},{"s":"Q5","t":151.9,"v":29.2},{"s":"Q5","t":153.1,"v":29.29},{"s":"Q5","t":154.4,"v":29.29},{"s":"Q5","t":155.6,"v":29.2},{"s":"Q5","t":156.9,"v":29.11},{"s":"Q5","t":158.1,"v":28.89},{"s":"Q5","t":159.4,"v":28.8},{"s":"Q5","t":160.6,"v":28.89},{"s":"Q5","t":161.6,"v":29.03},{"s":"Q5","t":162.5,"v":28.8},{"s":"Q5","t":163.5,"v":28.65},{"s":"Q5","t":165,"v":28.6},{"s":"Q5","t":166.3,"v":28.62},{"s":"Q5","t":167.5,"v":28.69},{"s":"Q5","t":168.8,"v":28.89},{"s":"Q5","t":170.1,"v":29.0},{"s":"Q5","t":171.3,"v":29.03},{"s":"Q5","t":172.6,"v":29.06},{"s":"Q5","t":173.8,"v":29.09},{"s":"Q5","t":175.1,"v":29.14},{"s":"Q5","t":176.3,"v":29.2},{"s":"Q5","t":177.6,"v":29.23},{"s":"Q5","t":178.8,"v":29.23},{"s":"Q5","t":180.1,"v":29.29},{"s":"Q5","t":181.3,"v":29.34},{"s":"Q5","t":182.6,"v":29.37},{"s":"Q5","t":183.9,"v":29.34},{"s":"Q5","t":185.1,"v":29.23},{"s":"Q5","t":186.4,"v":29.11},{"s":"Q5","t":187.6,"v":29.17},{"s":"Q5","t":188.9,"v":29.26},{"s":"Q5","t":190.1,"v":29.17},{"s":"Q5","t":191.1,"v":29.09},{"s":"Q5","t":192,"v":29.2},{"s":"Q5","t":193.3,"v":29.2},{"s":"Q5","t":194.5,"v":29.14},
{"s":"Q5","g":2,"t":271,"v":29.89},{"s":"Q5","g":2,"t":271.9,"v":30.03},{"s":"Q5","g":2,"t":272.9,"v":30.14},{"s":"Q5","g":2,"t":273.8,"v":30.23},{"s":"Q5","g":2,"t":275,"v":30.29},{"s":"Q5","g":2,"t":276,"v":30.11},{"s":"Q5","g":2,"t":276.9,"v":29.69},{"s":"Q5","g":2,"t":277.9,"v":29.46},{"s":"Q5","g":2,"t":279.1,"v":29.43},{"s":"Q5","g":2,"t":280.4,"v":29.51},{"s":"Q5","g":2,"t":281.6,"v":29.66},{"s":"Q5","g":2,"t":282.9,"v":29.57},{"s":"Q5","g":2,"t":283.8,"v":29.4},{"s":"Q5","g":2,"t":284.8,"v":29.23},{"s":"Q5","g":2,"t":285.7,"v":29.51},{"s":"Q5","g":2,"t":287,"v":29.74},{"s":"Q5","g":2,"t":287.9,"v":29.77},{"s":"Q5","g":2,"t":288.8,"v":29.69},{"s":"Q5","g":2,"t":289.8,"v":29.8},{"s":"Q5","g":2,"t":291,"v":29.89},{"s":"Q5","g":2,"t":292,"v":29.34},{"s":"Q5","g":2,"t":293.2,"v":29.46},{"s":"Q5","g":2,"t":294.5,"v":29.66},{"s":"Q5","g":2,"t":295.7,"v":29.8},{"s":"Q5","g":2,"t":297,"v":29.89},{"s":"Q5","g":2,"t":297.9,"v":29.97},{"s":"Q5","g":2,"t":299.2,"v":29.69},
{"s":"J5","t":6,"v":31.46},{"s":"J5","t":7.3,"v":31.51},{"s":"J5","t":8.5,"v":31.57},{"s":"J5","t":9.8,"v":31.57},{"s":"J5","t":11,"v":31.69},{"s":"J5","t":12.3,"v":31.74},{"s":"J5","t":13.6,"v":31.74},{"s":"J5","t":14.8,"v":31.74},{"s":"J5","t":16.1,"v":31.69},{"s":"J5","t":17.3,"v":31.63},{"s":"J5","t":18.3,"v":31.86},{"s":"J5","t":19.5,"v":31.97},{"s":"J5","t":20.8,"v":31.8},{"s":"J5","t":22,"v":31.51},{"s":"J5","t":23.3,"v":31.26},{"s":"J5","t":24.5,"v":31.17},{"s":"J5","t":25.8,"v":31.29},{"s":"J5","t":27,"v":31.11},{"s":"J5","t":28.3,"v":30.83},{"s":"J5","t":29.5,"v":30.6},{"s":"J5","t":30.8,"v":30.74},{"s":"J5","t":32.1,"v":30.89},{"s":"J5","t":33.3,"v":30.83},{"s":"J5","t":34.6,"v":30.74},{"s":"J5","t":35.8,"v":31.03},{"s":"J5","t":36.8,"v":30.89},{"s":"J5","t":38,"v":30.89},{"s":"J5","t":39.3,"v":30.83},{"s":"J5","t":40.5,"v":30.77},{"s":"J5","t":41.8,"v":30.74},{"s":"J5","t":43,"v":30.43},{"s":"J5","t":44.3,"v":30.31},{"s":"J5","t":45.5,"v":30.03},{"s":"J5","t":46.8,"v":29.83},{"s":"J5","t":48,"v":29.71},{"s":"J5","t":49.3,"v":29.71},{"s":"J5","t":50.6,"v":29.97},{"s":"J5","t":51.8,"v":29.74},{"s":"J5","t":53.1,"v":29.69},{"s":"J5","t":54.3,"v":29.66},{"s":"J5","t":55.6,"v":29.71},{"s":"J5","t":57.1,"v":29.91},{"s":"J5","t":58.4,"v":29.57},{"s":"J5","t":59.6,"v":29.69},{"s":"J5","t":60.9,"v":29.86},{"s":"J5","t":62.2,"v":29.63},{"s":"J5","t":63.4,"v":29.46},{"s":"J5","t":65,"v":29.34},{"s":"J5","t":66.2,"v":29.51},{"s":"J5","t":67.5,"v":29.66},{"s":"J5","t":68.7,"v":29.46},{"s":"J5","t":70.3,"v":29.46},{"s":"J5","t":71.9,"v":29.31},{"s":"J5","t":73.4,"v":29.54},{"s":"J5","t":75,"v":29.6},
{"s":"J5","t":76.6,"v":29.69},{"s":"J5","t":77.8,"v":29.8},{"s":"J5","t":79.1,"v":29.69},{"s":"J5","t":80.3,"v":29.63},{"s":"J5","t":81.6,"v":29.57},{"s":"J5","t":82.5,"v":29.51},{"s":"J5","t":83.8,"v":29.63},{"s":"J5","t":85,"v":30.09},{"s":"J5","t":86.3,"v":30.31},{"s":"J5","t":87.5,"v":30.43},{"s":"J5","t":88.8,"v":30.37},{"s":"J5","t":90.1,"v":30.66},{"s":"J5","t":91.3,"v":30.89},{"s":"J5","t":92.2,"v":30.83},{"s":"J5","t":93.2,"v":30.49},{"s":"J5","t":94.1,"v":30.4},{"s":"J5","t":95.1,"v":30.66},{"s":"J5","t":96,"v":30.8},{"s":"J5","t":97.3,"v":30.71},{"s":"J5","t":98.5,"v":30.6},{"s":"J5","t":99.8,"v":30.54},{"s":"J5","t":101,"v":30.6},{"s":"J5","t":102.3,"v":30.66},{"s":"J5","t":103.5,"v":30.63},{"s":"J5","t":104.8,"v":30.6},{"s":"J5","t":106,"v":30.49},{"s":"J5","t":107.3,"v":30.43},{"s":"J5","t":108.6,"v":30.4},{"s":"J5","t":109.8,"v":30.4},{"s":"J5","t":111.1,"v":30.43},{"s":"J5","t":112.3,"v":30.4},{"s":"J5","t":113.6,"v":30.43},{"s":"J5","t":114.8,"v":30.37},{"s":"J5","t":116.1,"v":30.49},{"s":"J5","t":117.3,"v":30.46},{"s":"J5","t":118.6,"v":30.46},{"s":"J5","t":119.8,"v":30.43},{"s":"J5","t":121.1,"v":30.26},{"s":"J5","t":122.4,"v":30.09},{"s":"J5","t":123.6,"v":30.2},{"s":"J5","t":124.9,"v":30.03},{"s":"J5","t":126.1,"v":30.14},{"s":"J5","t":127.4,"v":30.14},{"s":"J5","t":128.6,"v":30.11},{"s":"J5","t":129.9,"v":30.2},{"s":"J5","t":131.1,"v":30.14},{"s":"J5","t":132.4,"v":30.06},{"s":"J5","t":133.6,"v":29.86},{"s":"J5","t":134.9,"v":29.57},{"s":"J5","t":135.8,"v":29.4},{"s":"J5","t":137.1,"v":29.51},{"s":"J5","t":138.3,"v":29.86},{"s":"J5","t":139.6,"v":29.91},{"s":"J5","t":140.9,"v":29.91},{"s":"J5","t":142.1,"v":29.94},{"s":"J5","t":143.4,"v":29.97},{"s":"J5","t":144.6,"v":29.91},{"s":"J5","t":145.9,"v":29.97},{"s":"J5","t":147.1,"v":29.91},{"s":"J5","t":148.4,"v":29.8},{"s":"J5","t":149.6,"v":29.69},
{"s":"J5","t":150.6,"v":29.66},{"s":"J5","t":151.9,"v":29.57},{"s":"J5","t":153.1,"v":29.51},{"s":"J5","t":154.4,"v":29.57},{"s":"J5","t":155.6,"v":29.51},{"s":"J5","t":156.9,"v":29.31},{"s":"J5","t":158.1,"v":28.97},{"s":"J5","t":159.1,"v":28.89},{"s":"J5","t":160.3,"v":29.0},{"s":"J5","t":161.6,"v":29.29},{"s":"J5","t":162.8,"v":28.94},{"s":"J5","t":164.1,"v":28.25},{"s":"J5","t":165,"v":28.45},{"s":"J5","t":166.3,"v":28.77},{"s":"J5","t":167.5,"v":28.97},{"s":"J5","t":168.8,"v":29.2},{"s":"J5","t":170.1,"v":29.4},{"s":"J5","t":171.3,"v":29.51},{"s":"J5","t":172.6,"v":29.57},{"s":"J5","t":173.8,"v":29.6},{"s":"J5","t":175.1,"v":29.69},{"s":"J5","t":176.3,"v":29.71},{"s":"J5","t":177.6,"v":29.8},{"s":"J5","t":178.8,"v":29.86},{"s":"J5","t":180.1,"v":29.89},{"s":"J5","t":181.3,"v":29.91},{"s":"J5","t":182.6,"v":29.97},{"s":"J5","t":183.9,"v":29.97},{"s":"J5","t":185.1,"v":29.86},{"s":"J5","t":186.4,"v":29.8},{"s":"J5","t":187.6,"v":29.83},{"s":"J5","t":188.9,"v":29.91},{"s":"J5","t":190.1,"v":29.91},{"s":"J5","t":191.1,"v":29.77},{"s":"J5","t":192,"v":29.91},{"s":"J5","t":193.3,"v":29.94},{"s":"J5","t":194.5,"v":29.91},{"s":"J5","t":195.8,"v":29.86},{"s":"J5","t":197,"v":29.97},{"s":"J5","t":198.3,"v":30.03},{"s":"J5","t":199.5,"v":30.06},{"s":"J5","t":200.8,"v":30.11},{"s":"J5","t":202,"v":30.14},{"s":"J5","t":203.3,"v":30.2},{"s":"J5","t":204.5,"v":30.23},{"s":"J5","t":205.8,"v":30.31},{"s":"J5","t":207.1,"v":30.34},{"s":"J5","t":208,"v":30.43},{"s":"J5","t":209.3,"v":30.34},{"s":"J5","t":210.5,"v":30.29},{"s":"J5","t":211.8,"v":30.23},{"s":"J5","t":213,"v":30.17},{"s":"J5","t":214.3,"v":30.09},{"s":"J5","t":215.5,"v":29.97},{"s":"J5","t":216.5,"v":29.57},{"s":"J5","t":217.4,"v":29.2},{"s":"J5","t":218.3,"v":29.31},{"s":"J5","t":219.6,"v":29.29},{"s":"J5","t":220.9,"v":29.4},{"s":"J5","t":222.1,"v":29.46},{"s":"J5","t":223.4,"v":29.4},{"s":"J5","t":224.9,"v":29.37},
{"s":"J5","t":225.8,"v":29.34},{"s":"J5","t":227.1,"v":29.37},{"s":"J5","t":228.3,"v":29.29},{"s":"J5","t":229.3,"v":29.2},{"s":"J5","t":230.5,"v":29.37},{"s":"J5","t":231.5,"v":29.43},{"s":"J5","t":232.7,"v":29.4},{"s":"J5","t":234,"v":29.37},{"s":"J5","t":235.2,"v":29.37},{"s":"J5","t":236.5,"v":29.51},{"s":"J5","t":237.7,"v":29.34},{"s":"J5","t":239,"v":29.17},{"s":"J5","t":240.2,"v":29.34},{"s":"J5","t":241.5,"v":29.46},{"s":"J5","t":242.7,"v":29.57},{"s":"J5","t":244,"v":29.37},{"s":"J5","t":245.3,"v":29.37},{"s":"J5","t":246.2,"v":29.31},{"s":"J5","t":247.1,"v":29.17},{"s":"J5","t":248.1,"v":29.51},{"s":"J5","t":249,"v":29.8},{"s":"J5","t":250.3,"v":29.86},{"s":"J5","t":251.5,"v":29.97},{"s":"J5","t":252.8,"v":30.17},{"s":"J5","t":254,"v":29.86},{"s":"J5","t":255.3,"v":29.49},{"s":"J5","t":256.5,"v":29.97},{"s":"J5","t":257.8,"v":29.89},{"s":"J5","t":259.1,"v":29.8},{"s":"J5","t":260.3,"v":29.66},{"s":"J5","t":261.2,"v":30.09},{"s":"J5","t":262.2,"v":30.54},{"s":"J5","t":263.4,"v":30.97},{"s":"J5","t":264.7,"v":30.97},{"s":"J5","t":266.6,"v":30.97},{"s":"J5","t":267.8,"v":30.8},{"s":"J5","t":269.1,"v":30.97},{"s":"J5","t":270,"v":31.26},{"s":"J5","t":271.3,"v":31.51},{"s":"J5","t":272.5,"v":31.74},{"s":"J5","t":273.8,"v":31.91},{"s":"J5","t":274.7,"v":31.97},{"s":"J5","t":276,"v":31.86},{"s":"J5","t":276.9,"v":31.34},{"s":"J5","t":277.9,"v":30.83},{"s":"J5","t":279.1,"v":30.66},{"s":"J5","t":280.1,"v":30.69},{"s":"J5","t":281.3,"v":30.97},{"s":"J5","t":282.6,"v":31.11},{"s":"J5","t":283.5,"v":30.97},{"s":"J5","t":284.5,"v":30.6},{"s":"J5","t":285.1,"v":30.4},{"s":"J5","t":286,"v":30.89},{"s":"J5","t":287.3,"v":31.31},{"s":"J5","t":288.5,"v":31.11},{"s":"J5","t":289.2,"v":30.83},{"s":"J5","t":290.7,"v":31.46},{"s":"J5","t":292,"v":30.6},{"s":"J5","t":292.9,"v":30.77},{"s":"J5","t":294.2,"v":31.06},{"s":"J5","t":295.4,"v":31.29},{"s":"J5","t":296.7,"v":31.46},{"s":"J5","t":297.9,"v":31.6},{"s":"J5","t":299.2,"v":31.03}
]},
"mark": {"type": "line", "strokeWidth": 3.5, "strokeJoin": "round", "strokeCap": "round"},
"encoding": {
 "x": {"field": "t", "type": "quantitative", "scale": {"domain": [0, 299.5], "nice": false, "zero": false},
  "axis": {"values": [0,31,61,92,122,153,184,212,243,273],
   "labelExpr": "['2016/8/19','2016/9/19','2016/10/19','2016/11/19','2016/12/19','2017/1/19','2017/2/19','2017/3/19','2017/4/19','2017/5/19'][indexof([0,31,61,92,122,153,184,212,243,273], datum.value)]",
   "title": null, "labelAngle": -45, "labelFont": "Liberation Mono", "labelFontSize": 20, "labelColor": "#222", "labelPadding": 10, "labelFlush": false, "labelOverlap": false,
   "grid": false, "domainColor": "#9a9a9a", "domainWidth": 1.6, "tickColor": "#9a9a9a", "tickWidth": 1.5, "tickSize": 8}},
 "y": {"field": "v", "type": "quantitative", "scale": {"domain": [25, 35], "nice": false, "zero": false},
  "axis": {"values": [25,26,27,28,29,30,31,32,33,34,35], "format": ".2f",
   "title": "Water level（m）", "titleFont": "Liberation Mono, Noto Sans CJK SC", "titleFontSize": 19, "titleFontWeight": "normal", "titleColor": "#222", "titlePadding": 14,
   "labelFont": "Liberation Mono", "labelFontSize": 21, "labelColor": "#222", "labelPadding": 6,
   "grid": true, "gridColor": "#9a9a9a", "gridWidth": 1.6, "domainColor": "#9a9a9a", "domainWidth": 1.6, "tickColor": "#9a9a9a", "tickWidth": 1.5, "tickSize": 8}},
 "color": {"field": "s", "type": "nominal", "scale": {"domain": ["Q4","J4","Q5","J5"], "range": ["#4f81bd","#c0504d","#9bbb59","#8064a2"]},
  "legend": {"title": null, "orient": "none", "legendX": 1489, "legendY": 391, "direction": "vertical", "padding": 0,
   "symbolType": "M-4,0L4,0", "symbolSize": 196, "symbolStrokeWidth": 5, "labelOffset": 22, "rowPadding": 14,
   "labelFont": "Liberation Mono", "labelFontSize": 19, "labelColor": "#222"}},
 "detail": {"field": "g"}
}
}
]
}
